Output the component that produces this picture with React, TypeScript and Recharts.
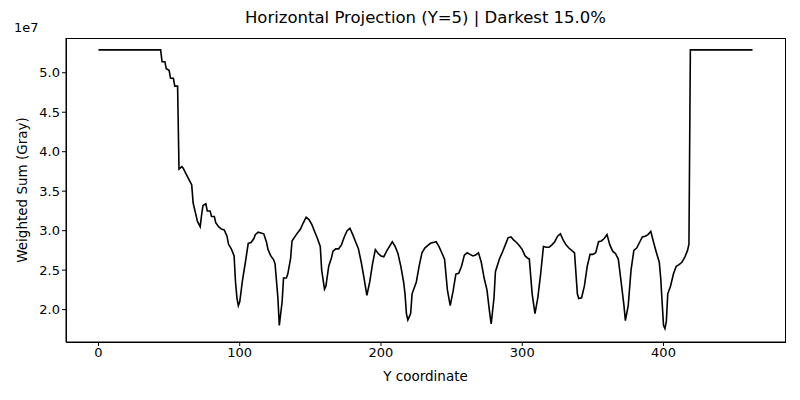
import { LineChart, Line, XAxis, YAxis } from 'recharts'

// y coordinate vs weighted sum (units of 1e6)
const xs = [0, 44, 45, 47, 48, 50, 51, 53, 54, 56, 57, 59, 60, 62, 64, 66, 67, 69, 70, 72, 73, 74, 76, 77, 79, 80, 82, 83, 85, 87, 89, 91, 92, 94, 96, 97, 98, 99, 100, 102, 104, 106, 108, 110, 111, 113, 115, 117, 119, 120, 122, 124, 125, 127, 128, 130, 131, 133, 134, 136, 137, 140, 143, 145, 147, 149, 151, 153, 155, 157, 158, 160, 161, 163, 165, 166, 168, 170, 172, 174, 176, 178, 180, 182, 184, 186, 188, 190, 192, 194, 196, 198, 200, 202, 204, 206, 208, 210, 212, 214, 216, 217, 218, 219, 221, 222, 225, 227, 229, 231, 233, 235, 237, 239, 241, 243, 245, 247, 249, 251, 253, 255, 257, 259, 261, 263, 265, 267, 269, 271, 273, 275, 277, 278, 280, 281, 284, 286, 288, 290, 292, 294, 296, 298, 300, 302, 304, 305, 307, 309, 311, 313, 315, 317, 319, 321, 323, 325, 327, 329, 331, 333, 335, 337, 339, 340, 342, 344, 346, 348, 350, 352, 354, 356, 358, 360, 362, 364, 366, 368, 370, 372, 373, 375, 377, 379, 381, 383, 385, 387, 389, 391, 393, 395, 397, 398, 399, 400, 401, 402, 403, 405, 407, 409, 411, 413, 415, 417, 418, 419, 463]
const sums = [52.9, 52.9, 51.4, 51.4, 50.5, 50.3, 49.3, 49.3, 48.3, 48.3, 37.8, 38.1, 37.9, 37.2, 36.5, 35.8, 33.5, 32.0, 31.2, 30.5, 32.0, 33.2, 33.4, 32.5, 32.5, 31.8, 31.8, 31.0, 30.5, 30.2, 30.1, 29.3, 28.3, 27.7, 26.8, 23.5, 21.5, 20.5, 21, 23.8, 26, 28.4, 28.5, 29.0, 29.5, 29.8, 29.7, 29.6, 28.5, 27.6, 26.8, 26.3, 25.8, 21.5, 18.0, 21, 24.0, 24.0, 24.5, 26.5, 28.7, 29.5, 30.2, 31.0, 31.7, 31.4, 30.8, 29.9, 29.0, 28.0, 25.0, 22.6, 23.0, 25.5, 26.6, 27.4, 27.7, 27.7, 28.2, 29.2, 30.0, 30.3, 29.5, 28.6, 27.7, 26.0, 24.0, 21.8, 23.5, 25.8, 27.6, 27.1, 26.8, 26.7, 27.4, 28.0, 28.6, 28.0, 27.1, 25.5, 23.5, 22.0, 19.5, 18.7, 19.5, 22.0, 23.5, 25.5, 27.2, 27.8, 28.1, 28.4, 28.5, 28.6, 28.0, 27.2, 26.4, 22.5, 20.5, 22.3, 24.5, 24.6, 25.5, 26.9, 27.2, 27.0, 26.8, 26.9, 27.2, 26.0, 24.0, 22.5, 19.5, 18.2, 21.5, 24.8, 26.5, 27.3, 28.2, 29.1, 29.2, 28.8, 28.5, 28.1, 27.6, 26.8, 26.5, 26.4, 22.0, 19.5, 21.5, 24.5, 28.0, 27.9, 27.9, 28.2, 28.6, 29.3, 29.6, 28.8, 28.2, 27.8, 27.5, 27.2, 22.0, 21.4, 21.5, 23.0, 25.5, 27.0, 27.0, 27.2, 28.6, 28.7, 29.0, 29.5, 28.2, 27.4, 27.1, 26.4, 23.5, 20.5, 18.6, 20.5, 25.0, 27.5, 27.8, 28.5, 29.2, 29.3, 29.5, 29.9, 28.5, 27.2, 26.0, 24.0, 21.0, 18.0, 17.6, 18.5, 22.0, 23.0, 24.5, 25.5, 25.7, 26.0, 26.6, 27.5, 28.3, 52.9, 52.9]
const xTicks = [0, 100, 200, 300, 400]
const yTicks = [20, 25, 30, 35, 40, 45, 50]

const data = xs.map((x, i) => ({ x, v: sums[i] }))
const font = 'DejaVu Sans, sans-serif'

export default function App() {
  return (
    <div style={{ position: 'fixed', left: 0, top: 0, width: 800, height: 400, background: '#fff', fontFamily: font }}>
      <div style={{ position: 'absolute', left: 66, width: 719, top: 8, textAlign: 'center', fontSize: 16.5, color: '#000' }}>
        Horizontal Projection (Y=5) | Darkest 15.0%
      </div>
      <div style={{ position: 'absolute', left: 14, top: 20, fontSize: 13 }}>1e7</div>
      <div style={{ position: 'absolute', left: 66, width: 719, top: 368, textAlign: 'center', fontSize: 13.5 }}>Y coordinate</div>
      <div style={{ position: 'absolute', left: 22, top: 190, fontSize: 13.5, transform: 'translate(-50%, -50%) rotate(-90deg)', whiteSpace: 'nowrap' }}>
        Weighted Sum (Gray)
      </div>
      <div style={{ position: 'absolute', left: 66, top: 38, width: 718, height: 303, border: '1px solid #000' }} />
      <LineChart width={800} height={400} data={data} margin={{ top: 38, right: 15, bottom: 0, left: 0 }}>
        <XAxis
          dataKey="x"
          type="number"
          domain={[-23, 486]}
          ticks={xTicks}
          allowDataOverflow
          stroke="#000"
          tick={{ fill: '#000', fontSize: 13, fontFamily: font }}
          tickSize={4}
          height={58}
        />
        <YAxis
          type="number"
          domain={[15.9, 54.4]}
          ticks={yTicks}
          allowDataOverflow
          tickFormatter={(v: number) => (v / 10).toFixed(1)}
          stroke="#000"
          tick={{ fill: '#000', fontSize: 13, fontFamily: font }}
          tickSize={4}
          width={66}
        />
        <Line dataKey="v" type="linear" stroke="#000" strokeWidth={1.6} dot={false} isAnimationActive={false} />
      </LineChart>
    </div>
  )
}
